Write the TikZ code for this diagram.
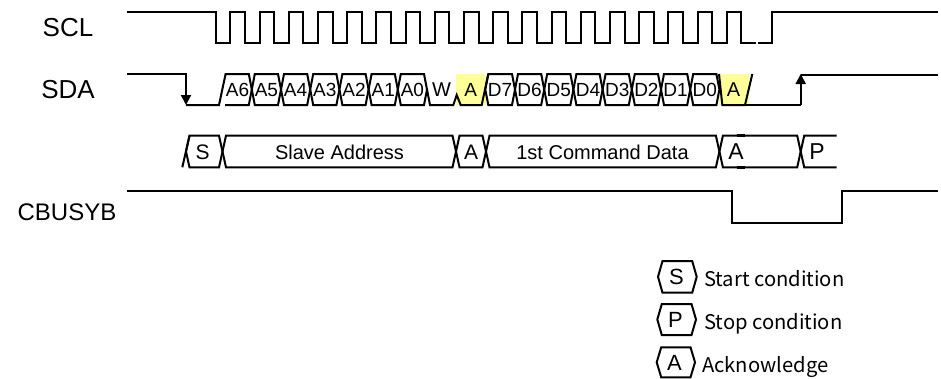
\documentclass[tikz,border=0pt]{standalone}
\usepackage{fontspec}
\setmainfont{Liberation Sans}
\newfontfamily\gothicfont{Noto Sans CJK JP}
\usetikzlibrary{arrows.meta}
\definecolor{ackyellow}{HTML}{FFFF99}
\newcommand{\fsize}[1]{\fontsize{#1}{#1}\selectfont}
\tikzstyle{wave}=[line width=2pt, line join=miter]
\tikzstyle{signame}=[inner sep=0pt, font=\fsize{26}]
\tikzstyle{bit}=[inner sep=0pt, font=\fsize{19}]
\tikzstyle{field}=[inner sep=0pt, font=\fsize{20}]
\tikzstyle{legendword}=[inner sep=0pt, anchor=base west, font=\gothicfont\fsize{20.2}]
\tikzstyle{edgearrow}=[wave, -{Triangle[length=10pt, width=10pt]}]
% left x, right x, top y, bottom y, slant
\newcommand{\hexbox}[5]{\draw [wave] (#1,{(#3+#4)/2}) -- ({#1+#5},#3) -- ({#2-#5},#3) -- (#2,{(#3+#4)/2}) -- ({#2-#5},#4) -- ({#1+#5},#4) -- cycle;}
\begin{document}
\begin{tikzpicture}[x=1pt, y=-1pt]
\useasboundingbox (0,0) rectangle (941,378);
\node [signame] (scl) at (68,27.5) {SCL};
\node [signame] (sda) at (68,90) {SDA};
\node [signame, font=\fsize{24}] (cbusyb) at (67,212) {CBUSYB};
% SCL
\draw [wave] (127,12) -| (215.7,43) -| (230.3,12) -| (244.9,43) -| (259.5,12) -| (274.1,43) -| (288.7,12)
 -| (303.3,43) -| (317.9,12) -| (332.5,43) -| (347.1,12) -| (361.7,43) -| (376.3,12) -| (390.9,43) -| (405.5,12)
 -| (420.1,43) -| (434.7,12) -| (449.3,43) -| (463.9,12) -| (478.5,43) -| (493.1,12) -| (507.7,43) -| (522.3,12)
 -| (536.9,43) -| (551.5,12) -| (566.1,43) -| (580.7,12) -| (595.3,43) -| (609.9,12) -| (624.5,43) -| (639.1,12)
 -| (653.7,43) -| (668.3,12) -| (682.9,43) -| (697.5,12) -| (712.1,43) -| (726.7,12) -| (741.3,43) -- (756,43);
\draw [wave] (757.5,43) -| (771.5,12) -- (938,12);
% SDA
\fill [ackyellow] (456,74) rectangle (486,105);
\fill [ackyellow] (719,74) rectangle (749,105);
\draw [edgearrow] (127,74) -| (186,105);
\draw [wave] (186,105) -- (219,105) -- (225.6,74) -- (248.8,74) -- (251.8,89.5) -- (248.8,105) -- (225,105);
\hexbox{251.8}{281}{74}{105}{3}
\hexbox{281}{310.2}{74}{105}{3}
\hexbox{310.2}{339.4}{74}{105}{3}
\hexbox{339.4}{368.6}{74}{105}{3}
\hexbox{368.6}{397.8}{74}{105}{3}
\hexbox{397.8}{427}{74}{105}{3}
\draw [wave] (427,89.5) -- (430,105) -- (453.3,105) -- (456.7,95) -- (460.7,105) -- (481.7,105) -- (488.3,74);
\hexbox{485.3}{515}{74}{105}{3}
\hexbox{515}{544.2}{74}{105}{3}
\hexbox{544.2}{573.4}{74}{105}{3}
\hexbox{573.4}{602.6}{74}{105}{3}
\hexbox{602.6}{631.8}{74}{105}{3}
\hexbox{631.8}{661}{74}{105}{3}
\hexbox{661}{690.2}{74}{105}{3}
\hexbox{690.2}{719.4}{74}{105}{3}
\draw [wave] (719,74) -- (722.3,105) -- (745,105) -- (752.3,74);
\draw [wave] (745,105) -- (800.7,105);
\draw [edgearrow] (800.7,105) -- (800.7,74);
\draw [wave] (800.7,74.5) -- (938,74.5);
\node [bit] (a6) at (237.5,90) {A6};
\node [bit] (a5) at (266.4,90) {A5};
\node [bit] (a4) at (295.6,90) {A4};
\node [bit] (a3) at (324.8,90) {A3};
\node [bit] (a2) at (354,90) {A2};
\node [bit] (a1) at (383.2,90) {A1};
\node [bit] (a0) at (412.4,90) {A0};
\node [bit, font=\fsize{20}] (w) at (441.5,90) {W};
\node [bit] (ack1) at (470.7,90) {A};
\node [bit] (d7) at (500,90) {D7};
\node [bit] (d6) at (529.6,90) {D6};
\node [bit] (d5) at (558.8,90) {D5};
\node [bit] (d4) at (588,90) {D4};
\node [bit] (d3) at (617.2,90) {D3};
\node [bit] (d2) at (646.4,90) {D2};
\node [bit] (d1) at (675.6,90) {D1};
\node [bit] (d0) at (704.8,90) {D0};
\node [bit, font=\fsize{20}] (ack2) at (733.5,90) {A};
% frame row
\draw [wave] (182.3,167.3) -- (189.5,135.7);
\hexbox{186}{222.5}{135.7}{167.3}{3.5}
\hexbox{222.5}{456}{135.7}{167.3}{3.5}
\hexbox{456}{486}{135.7}{167.3}{3.5}
\hexbox{486}{719.4}{135.7}{167.3}{3.5}
\hexbox{719.4}{800.7}{135.7}{167.3}{3.5}
\draw [wave] (836.7,135.7) -- (804.2,135.7) -- (800.7,151.5) -- (804.2,167.3) -- (836.7,167.3);
\draw [line width=2.6pt] (736.5,135.7) -- (745,135.7) (736.5,167.3) -- (745,167.3);
\node [field, font=\fsize{21}] (fs) at (202.5,152) {S};
\node [field] (fslave) at (339.5,152) {Slave Address};
\node [field, font=\fsize{21}] (fa1) at (471,152) {A};
\node [field] (fcmd) at (602.5,152) {1st Command Data};
\node [field, font=\fsize{23}] (fa2) at (736,152) {A};
\node [field, font=\fsize{23}] (fp) at (817,152) {P};
% CBUSYB
\draw [wave] (127,191) -| (731.7,223.3) -| (841.7,191) -- (938,191);
% legend
\hexbox{658}{696.7}{261}{292.7}{4.5}
\hexbox{657.3}{696}{304}{335}{4.5}
\hexbox{656.7}{695}{347.3}{377.3}{4.5}
\node [field, font=\fsize{22}] (legs) at (676.5,277) {S};
\node [field, font=\fsize{22}] (legp) at (675.5,320) {P};
\node [field, font=\fsize{22}] (lega) at (674.5,363) {A};
\node [legendword] (starttext) at (704,286) {Start condition};
\node [legendword] (stoptext) at (704,329) {Stop condition};
\node [legendword] (acktext) at (702,372) {Acknowledge};
\end{tikzpicture}
\end{document}
